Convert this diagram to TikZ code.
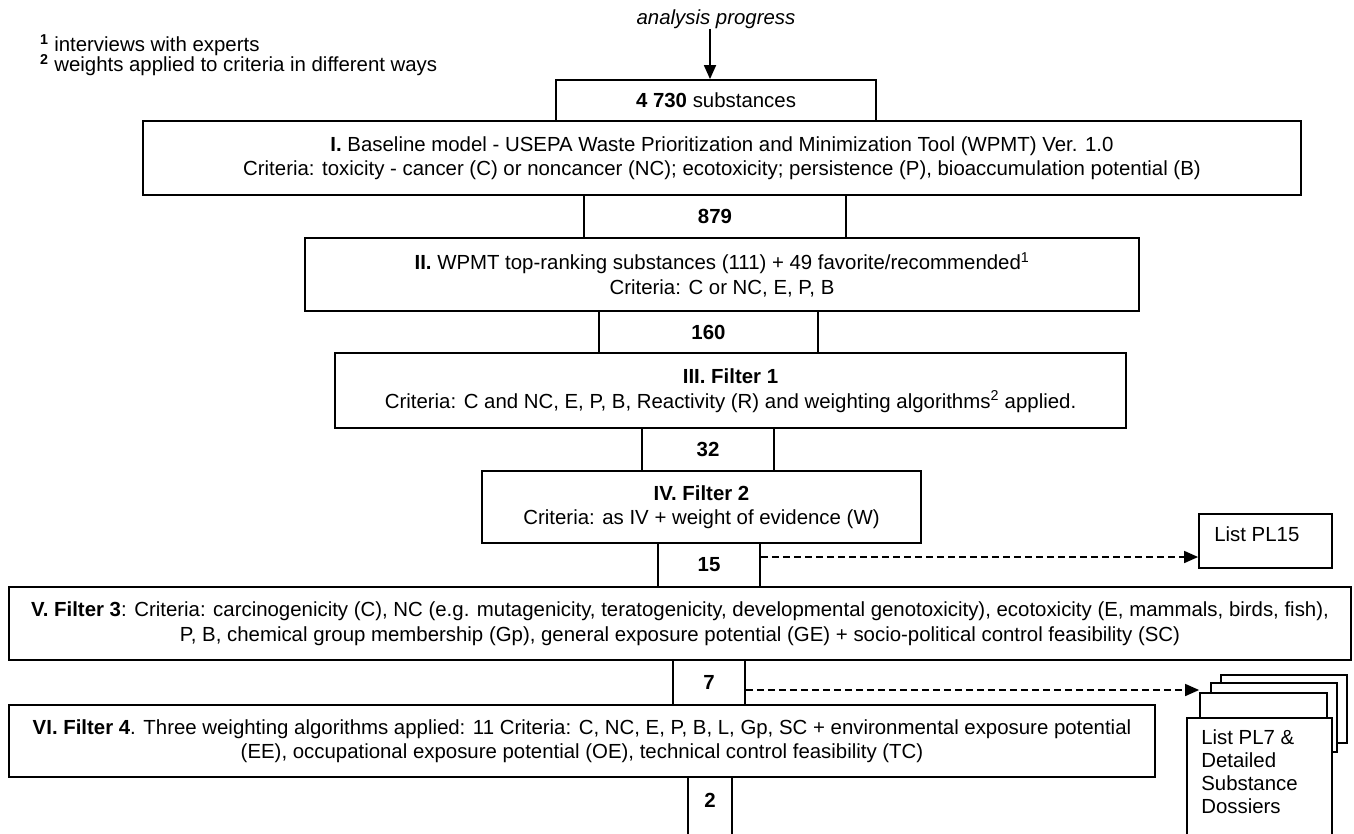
\documentclass[tikz,border=0pt]{standalone}
\usepackage{fontspec}
\setmainfont{Liberation Sans}
\usetikzlibrary{arrows.meta}
\begin{document}
\begin{tikzpicture}[x=1pt,y=-1pt,
  every node/.style={font=\fontsize{20.4pt}{24.5pt}\selectfont},
  box/.style={draw=black, line width=1.8pt, fill=white, inner sep=0pt, align=center},
  sidel/.style={line width=1.8pt},
  arr/.style={line width=1.8pt, -{Triangle[length=14pt,width=12pt]}},
  darr/.style={line width=1.6pt, dash pattern=on 7pt off 4pt, -{Triangle[length=14pt,width=12pt]}}
]
\useasboundingbox (0,0) rectangle (1354,833);
\clip (0,0) rectangle (1354,833);

% legend
\node[anchor=west, inner sep=0pt] (leg1) at (40,45) {\textsuperscript{\textbf{1}} interviews with experts};
\node[anchor=west, inner sep=0pt] (leg2) at (40,65) {\textsuperscript{\textbf{2}} weights applied to criteria in different ways};

% heading
\node[inner sep=0pt] (ap) at (716,19) {\itshape analysis progress};

% main column
\node[box, minimum width=320pt, minimum height=41pt] (n4730) at (716,100.5) {\textbf{4 730} substances};
\node[box, minimum width=1158pt, minimum height=74pt] (nI) at (722,158)
  {\textbf{I.} Baseline model - USEPA Waste Prioritization and Minimization Tool (WPMT) Ver. 1.0\\
   Criteria: toxicity - cancer (C) or noncancer (NC); ecotoxicity; persistence (P), bioaccumulation potential (B)};
\node[box, minimum width=262pt, minimum height=43pt] (n879) at (715,216.5) {\textbf{879}};
\node[box, minimum width=834pt, minimum height=73pt] (nII) at (722,274.5)
  {\textbf{II.} WPMT top-ranking substances (111) + 49 favorite/recommended\textsuperscript{1}\\
   Criteria: C or NC, E, P, B};
\node[box, minimum width=219pt, minimum height=42pt] (n160) at (708.5,332) {\textbf{160}};
\node[box, minimum width=791pt, minimum height=75pt] (nIII) at (730.5,390.5)
  {\textbf{III. Filter 1}\\
   Criteria: C and NC, E, P, B, Reactivity (R) and weighting algorithms\textsuperscript{2} applied.};
\node[box, minimum width=132pt, minimum height=43pt] (n32) at (708,449.5) {\textbf{32}};
\node[box, minimum width=439pt, minimum height=72pt] (nIV) at (701.5,507)
  {\textbf{IV. Filter 2}\\
   Criteria: as IV + weight of evidence (W)};
\node[box, minimum width=102pt, minimum height=44pt] (n15) at (709,565) {\textbf{15}};
\node[box, minimum width=1342pt, minimum height=73pt] (nV) at (680,623.5)
  {\textbf{V. Filter 3}: Criteria: carcinogenicity (C), NC (e.g. mutagenicity, teratogenicity, developmental genotoxicity), ecotoxicity (E, mammals, birds, fish),\\
   P, B, chemical group membership (Gp), general exposure potential (GE) + socio-political control feasibility (SC)};
\node[box, minimum width=72pt, minimum height=45pt] (n7) at (709,682.5) {\textbf{7}};
\node[box, minimum width=1146pt, minimum height=72pt] (nVI) at (582,741)
  {\textbf{VI. Filter 4}. Three weighting algorithms applied: 11 Criteria: C, NC, E, P, B, L, Gp, SC + environmental exposure potential\\
   (EE), occupational exposure potential (OE), technical control feasibility (TC)};
\node[inner sep=0pt, minimum width=44pt, minimum height=46pt] (n2) at (710,800) {\textbf{2}};
\draw[sidel] (n2.north west) -- ([yshift=-40pt]n2.south west);
\draw[sidel] (n2.north east) -- ([yshift=-40pt]n2.south east);

% side lists
\node[box, minimum width=133pt, minimum height=54pt,
  label={[anchor=west, inner sep=0pt, xshift=16pt, yshift=7pt]west:List PL15}] (pl15) at (1265.5,541) {};

\node[box, minimum width=126pt, minimum height=68pt] (stA) at (1284,709) {};
\node[box, minimum width=126pt, minimum height=69pt] (stB) at (1274,717.5) {};
\node[box, minimum width=127pt, minimum height=70pt] (stC) at (1263.5,728) {};
\node[box, minimum width=145pt, minimum height=132pt,
  label={[anchor=north west, align=left, inner sep=0pt, xshift=15pt, yshift=-12pt,
          font=\fontsize{20.4pt}{23pt}\selectfont]north west:List PL7 \&\\Detailed\\Substance\\Dossiers}] (stD) at (1259.5,784) {};

% connectors
\draw[arr] ([xshift=-6pt]ap.south) -- ([xshift=-6pt]ap.south |- n4730.north);
\draw[darr] ([yshift=8pt]n15.east) -- ([yshift=8pt]n15.east -| pl15.west);
\draw[darr] ([yshift=-7.5pt]n7.east) -- ([yshift=-7.5pt]n7.east -| stC.west);
\end{tikzpicture}
\end{document}
